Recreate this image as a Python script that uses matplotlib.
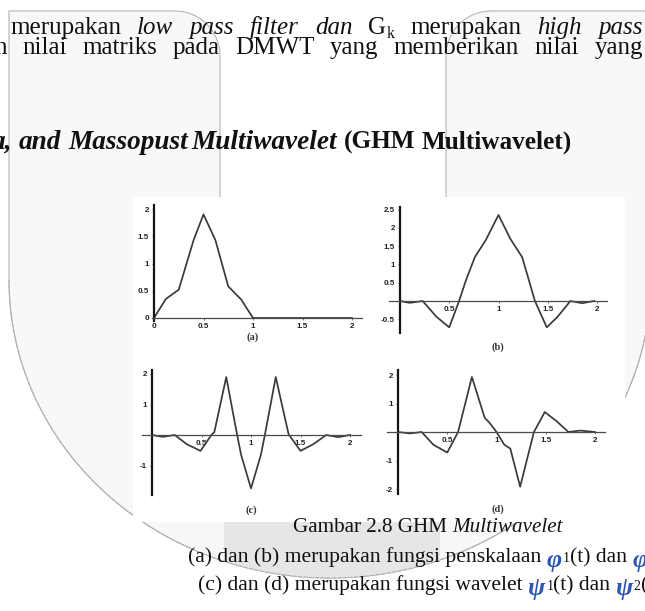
import numpy as np
import matplotlib
matplotlib.use("Agg")
import matplotlib.pyplot as plt
from matplotlib.patches import Polygon, Rectangle

# ---------------- data ----------------
xa = [0, 0.12, 0.25, 0.4, 0.5, 0.62, 0.75, 0.88, 1.0, 2.0]
ya = [0, 0.35, 0.52, 1.43, 1.9, 1.43, 0.58, 0.34, 0, 0]

xb = [0, 0.1, 0.23, 0.37, 0.5, 0.6, 0.67, 0.76, 0.87, 1.0, 1.12, 1.24, 1.37, 1.49, 1.6, 1.73, 1.85, 1.97]
yb = [0, -0.05, 0, -0.43, -0.72, 0, 0.57, 1.2, 1.66, 2.35, 1.7, 1.2, 0, -0.72, -0.43, 0, -0.06, 0]

xc = [0, 0.11, 0.23, 0.35, 0.49, 0.6, 0.63, 0.75, 0.86, 0.9, 1.0, 1.1, 1.14, 1.25, 1.38, 1.5, 1.63, 1.76, 1.88, 2.0]
yc = [0, -0.06, 0, -0.3, -0.52, 0, 0.1, 1.9, 0, -0.65, -1.75, -0.65, 0, 1.9, 0.02, -0.52, -0.3, 0, -0.07, 0]

xd = [0, 0.12, 0.24, 0.36, 0.5, 0.61, 0.75, 0.88, 0.93, 1.0, 1.08, 1.14, 1.24, 1.38, 1.49, 1.61, 1.73, 1.85, 2.0]
yd = [0, -0.05, 0, -0.45, -0.72, 0, 1.93, 0.5, 0.32, 0, -0.45, -0.58, -1.92, 0, 0.7, 0.38, 0, 0.05, 0]

xticks_a = [0, 0.5, 1, 1.5, 2]
xlabels_a = ["0", "0.5", "1", "1.5", "2"]
yticks_a = [0, 0.5, 1, 1.5, 2]
ylabels_a = ["0", "0.5", "1", "1.5", "2"]

xticks_bcd = [0.5, 1, 1.5, 2]
xlabels_bcd = ["0.5", "1", "1.5", "2"]
yticks_b = [-0.5, 0.5, 1, 1.5, 2, 2.5]
ylabels_b = ["-0.5", "0.5", "1", "1.5", "2", "2.5"]
yticks_c = [-1, 1, 2]
ylabels_c = ["-1", "1", "2"]
yticks_d = [-2, -1, 1, 2]
ylabels_d = ["-2", "-1", "1", "2"]

panel_labels = ["(a)", "(b)", "(c)", "(d)"]

# ---------------- figure ----------------
W, H = 645, 611
fig = plt.figure(figsize=(W / 100, H / 100), dpi=100)
fig.patch.set_facecolor("white")
renderer = fig.canvas.get_renderer()

bg = fig.add_axes([0, 0, 1, 1])
bg.set_xlim(0, W)
bg.set_ylim(H, 0)
bg.axis("off")
bg.set_zorder(0)

SERIF = ["Liberation Serif", "DejaVu Serif"]
SANS = ["Liberation Sans", "DejaVu Sans"]

# --- watermark shield ---
cx, cy, rx, ry = 330, 280, 321, 298
t = np.linspace(0, np.pi, 200)
arc_x = cx + rx * np.cos(t)
arc_y = cy + ry * np.sin(t)
pts = [(9, cy), (9, 11), (175, 11)]
ang = np.linspace(-np.pi / 2, 0, 20)
pts += [(175 + 45 * np.cos(a), 56 + 45 * np.sin(a)) for a in ang]
pts += [(220, 200), (446, 200)]
ang = np.linspace(np.pi, 3 * np.pi / 2, 20)
pts += [(491 + 45 * np.cos(a), 56 + 45 * np.sin(a)) for a in ang]
pts += [(700, 11), (700, cy), (cx + rx, cy)]
pts += list(zip(arc_x, arc_y))
shield = Polygon(pts, closed=True, facecolor="#f8f8f8", edgecolor="#b5b5b5", lw=0.8, zorder=1)
bg.add_patch(shield)
shadow = Rectangle((224, 522), 216, 80, facecolor="#e6e6e6", edgecolor="none", zorder=1.5)
bg.add_patch(shadow)
shadow.set_clip_path(shield)
bg.plot(arc_x, arc_y, color="#b0b0b0", lw=0.8, ls=(0, (4, 1)), zorder=1.6)

# scanned image background
bg.add_patch(Rectangle((133, 197), 492, 325, facecolor="white", edgecolor="none", zorder=2))


# ---------------- text helpers ----------------
def width_of(s, **kw):
    tt = bg.text(0, 0, s, **kw)
    w = tt.get_window_extent(renderer).width
    tt.remove()
    return w


def space_w(**kw):
    return width_of("n n", **kw) - width_of("nn", **kw)


def put(x, y, s, **kw):
    tt = bg.text(x, y, s, va="baseline", ha="left", zorder=5, **kw)
    return x + tt.get_window_extent(renderer).width


BODY = 18
nrm = dict(family=SERIF, fontsize=BODY, color="#111111")
itl = dict(family=SERIF, fontsize=BODY, color="#111111", fontstyle="italic")
SUBK = dict(family=SERIF, fontsize=11.5, color="#111111")


def word_w(w, kw):
    if w == "G":
        return width_of("G", **kw) + width_of("k", **SUBK)
    return width_of(w, **kw)


def justify(words, x_first, x_last_start, y):
    ws = [word_w(w, kw) for w, kw in words]
    gap = (x_last_start - x_first - sum(ws[:-1])) / (len(words) - 1)
    x = x_first
    for (w, kw), wd in zip(words, ws):
        if w == "G":
            xe = put(x, y, "G", **kw)
            put(xe, y + 4, "k", **SUBK)
        else:
            put(x, y, w, **kw)
        x += wd + gap


line1 = [("merupakan", nrm), ("low", itl), ("pass", itl), ("filter", itl), ("dan", itl),
         ("G", nrm), ("merupakan", nrm), ("high", itl), ("pass", itl)]
justify(line1, 10, 598, 34)

line2 = [("n", nrm), ("nilai", nrm), ("matriks", nrm), ("pada", nrm), ("DMWT", nrm),
         ("yang", nrm), ("memberikan", nrm), ("nilai", nrm), ("yang", nrm)]
wn = width_of("n", **nrm)
wy = width_of("yang", **nrm)
justify(line2, 7 - wn, 643 - wy, 54)

# heading
hbi = dict(family=SERIF, fontsize=19.6, color="#111111", fontweight="bold", fontstyle="italic")
hb = dict(family=SERIF, fontsize=18.2, color="#111111", fontweight="bold")
sp = space_w(**hbi)
HY = 149
x0 = 19 - sp - width_of("a,", **hbi)
x = put(x0, HY, "a,", **hbi) + sp
x = put(x, HY, "and", **hbi) + sp
x = put(x, HY, "Massopust", **hbi) + sp * 0.5
x = put(x, HY, "Multiwavelet", **hbi) + space_w(**hb)
x = put(x, HY, "(GHM", **hb) + space_w(**hb)
put(x, HY, "Multiwavelet)", **hb)

# caption
CAP = 15.2
CAP2 = 15.6
cn = dict(family=SERIF, fontsize=CAP, color="#111111")
ci = dict(family=SERIF, fontsize=CAP, color="#111111", fontstyle="italic")
cn2 = dict(family=SERIF, fontsize=CAP2, color="#111111")
sym = dict(family=SERIF, fontsize=CAP2 + 3, color="#2a55c0", fontweight="bold", fontstyle="italic")
small = dict(family=SERIF, fontsize=10, color="#111111")
csp = space_w(**cn)
csp2 = space_w(**cn2)

x = put(293, 532, "Gambar 2.8 GHM", **cn) + csp
put(x, 532, "Multiwavelet", **ci)

x = put(188, 562, "(a) dan (b) merupakan fungsi penskalaan", **cn2) + csp2
x = put(x, 567, "\u03c6", **sym) + 1
x = put(x, 562, "1", **small)
x = put(x, 562, "(t) dan", **cn2) + csp2
x = put(x, 567, "\u03c6", **sym) + 1
put(x, 562, "2", **small)

x = put(198, 590, "(c) dan (d) merupakan fungsi wavelet", **cn2) + csp2
x = put(x, 595, "\u03c8", **sym) + 1
x = put(x, 590, "1", **small)
x = put(x, 590, "(t) dan", **cn2) + csp2
x = put(x, 595, "\u03c8", **sym) + 1
x = put(x, 590, "2", **small)
put(x, 590, "(", **cn2)


# ---------------- panels ----------------
def panel(zx, zy, sx, sy, xlim, ylim):
    l = zx + xlim[0] * sx
    r = zx + xlim[1] * sx
    top = zy - ylim[1] * sy
    bot = zy - ylim[0] * sy
    ax = fig.add_axes([l / W, 1 - bot / H, (r - l) / W, (bot - top) / H])
    ax.set_zorder(3)
    ax.set_xlim(xlim)
    ax.set_ylim(ylim)
    ax.patch.set_alpha(0)
    for s in ["top", "right"]:
        ax.spines[s].set_visible(False)
    ax.spines["left"].set_position(("data", 0))
    ax.spines["bottom"].set_position(("data", 0))
    ax.spines["left"].set_linewidth(1.6)
    ax.spines["left"].set_color("#151515")
    ax.spines["bottom"].set_linewidth(0.9)
    ax.spines["bottom"].set_color("#4a4a4a")
    ax.tick_params(length=1.2, width=0.5, colors="#333333", pad=2.5)
    return ax


def style_ticks(ax, xt, xl, yt, yl):
    ax.set_xticks(xt)
    ax.set_xticklabels(xl, fontsize=5.8, fontweight="bold", family=SANS, color="#222222")
    ax.set_yticks(yt)
    ax.set_yticklabels(yl, fontsize=5.8, fontweight="bold", family=SANS, color="#222222")


LINE = dict(color="#3a3a3a", lw=1.25)

ax_a = panel(154, 318, 99, 54.5, (-0.02, 2.1), (-0.05, 2.08))
ax_a.plot(xa, ya, **LINE)
style_ticks(ax_a, xticks_a, xlabels_a, yticks_a, ylabels_a)

ax_b = panel(400, 301, 98.5, 36.6, (-0.11, 2.1), (-0.87, 2.58))
ax_b.plot(xb, yb, **LINE)
style_ticks(ax_b, xticks_bcd, xlabels_bcd, yticks_b, ylabels_b)

ax_c = panel(152, 435, 99, 30.5, (-0.1, 2.11), (-1.97, 2.13))
ax_c.plot(xc, yc, **LINE)
style_ticks(ax_c, xticks_bcd, xlabels_bcd, yticks_c, ylabels_c)

ax_d = panel(398, 432, 98.5, 28.5, (-0.11, 2.1), (-2.18, 2.18))
ax_d.plot(xd, yd, **LINE)
style_ticks(ax_d, xticks_bcd, xlabels_bcd, yticks_d, ylabels_d)

lab_kw = dict(family=SERIF, fontsize=7.5, fontweight="bold", color="#333333", ha="center", va="center", zorder=5)
bg.text(253, 337, panel_labels[0], **lab_kw)
bg.text(498, 347, panel_labels[1], **lab_kw)
bg.text(251, 510, panel_labels[2], **lab_kw)
bg.text(498, 509, panel_labels[3], **lab_kw)

fig.savefig("out.png", dpi=100)
